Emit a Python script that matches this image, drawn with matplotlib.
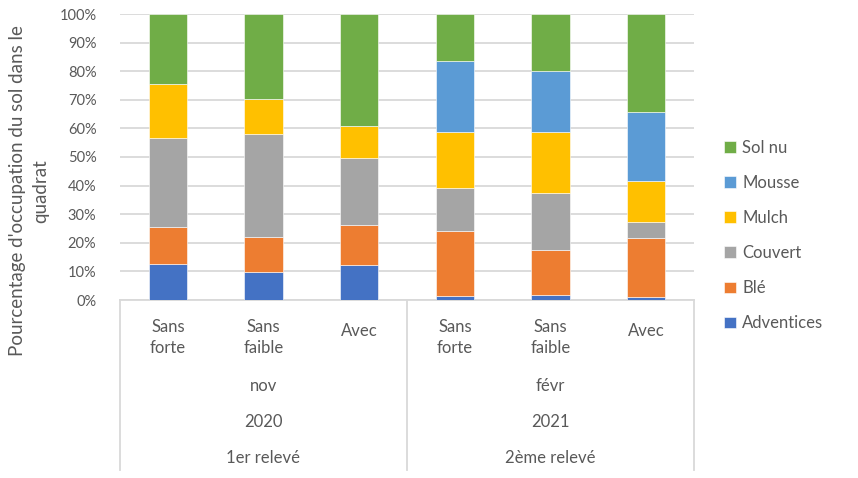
import numpy as np
import matplotlib
matplotlib.use('Agg')
import matplotlib.pyplot as plt
from matplotlib.transforms import blended_transform_factory

plt.rcParams['font.family'] = ['Lato', 'DejaVu Sans']

# valeurs (%), une barre par modalité
categories = ['Sans\nforte', 'Sans\nfaible', 'Avec', 'Sans\nforte', 'Sans\nfaible', 'Avec']
mois = ['nov', 'févr']
annees = ['2020', '2021']
releves = ['1er relevé', '2ème relevé']

adventices = [12.6, 9.8, 12.4, 1.4, 1.6, 0.9]
ble = [13.0, 12.3, 13.7, 22.8, 16.0, 20.9]
couvert = [31.2, 35.8, 23.7, 14.8, 19.8, 5.4]
mulch = [18.7, 12.3, 10.9, 19.6, 21.2, 14.3]
mousse = [0.0, 0.0, 0.0, 25.0, 21.4, 24.4]
sol_nu = [24.5, 29.8, 39.3, 16.4, 20.0, 34.1]

series = [('Adventices', adventices, '#4472C4'),
          ('Blé', ble, '#ED7D31'),
          ('Couvert', couvert, '#A5A5A5'),
          ('Mulch', mulch, '#FFC000'),
          ('Mousse', mousse, '#5B9BD5'),
          ('Sol nu', sol_nu, '#70AD47')]

txt = '#595959'
grid = '#D9D9D9'

fig = plt.figure(figsize=(8.58, 4.78), dpi=100)
ax = fig.add_axes([120 / 858, 1 - 300 / 478, 574 / 858, 286 / 478])

x = np.arange(len(categories))
bottom = np.zeros(len(categories))
handles = []
for name, vals, col in series:
    vals = np.array(vals)
    b = ax.bar(x, vals, 0.4, bottom=bottom, color=col, edgecolor='white',
               linewidth=0.4, label=name, zorder=3)
    handles.append(b)
    bottom += vals

ax.set_xlim(-0.5, 5.5)
ax.set_ylim(0, 100)
ax.set_yticks(np.arange(0, 101, 10))
ax.set_yticklabels([f'{v}%' for v in range(0, 101, 10)])
ax.yaxis.grid(True, color=grid, linewidth=1.3, zorder=0)
ax.tick_params(axis='y', length=0, pad=17, labelsize=10.5, labelcolor=txt)
ax.set_xticks([])
for s in ['top', 'right', 'left']:
    ax.spines[s].set_visible(False)
ax.spines['bottom'].set_color(grid)
ax.spines['bottom'].set_linewidth(1.3)

# axe des catégories à plusieurs niveaux
tr = blended_transform_factory(ax.transData, ax.transAxes)
for xs in [-0.5, 2.5, 5.5]:
    ax.plot([xs, xs], [0, -0.594], transform=tr, color=grid, lw=1.3, clip_on=False)
for i, c in enumerate(categories):
    yy = -0.131 if '\n' in c else -0.108
    ax.text(i, yy, c, transform=tr, ha='center', va='center', fontsize=12,
            color=txt, linespacing=1.35)
for j in range(2):
    xc = 1 + 3 * j
    ax.text(xc, -0.300, mois[j], transform=tr, ha='center', va='center', fontsize=12, color=txt)
    ax.text(xc, -0.427, annees[j], transform=tr, ha='center', va='center', fontsize=12, color=txt)
    ax.text(xc, -0.552, releves[j], transform=tr, ha='center', va='center', fontsize=12, color=txt)

fig.text(29 / 858, 1 - 191 / 478, "Pourcentage d'occupation du sol dans le\nquadrat",
         rotation=90, ha='center', va='center', fontsize=13.5, color=txt, linespacing=1.4)

leg = fig.legend(handles[::-1], [s[0] for s in series][::-1], loc='center left',
                 bbox_to_anchor=(724 / 858, 1 - 235.5 / 478), frameon=False,
                 fontsize=12, handlelength=0.7, handleheight=0.7, handletextpad=0.4,
                 labelspacing=1.15, borderpad=0, borderaxespad=0)
for t in leg.get_texts():
    t.set_color(txt)

fig.savefig('out.png', dpi=100)
